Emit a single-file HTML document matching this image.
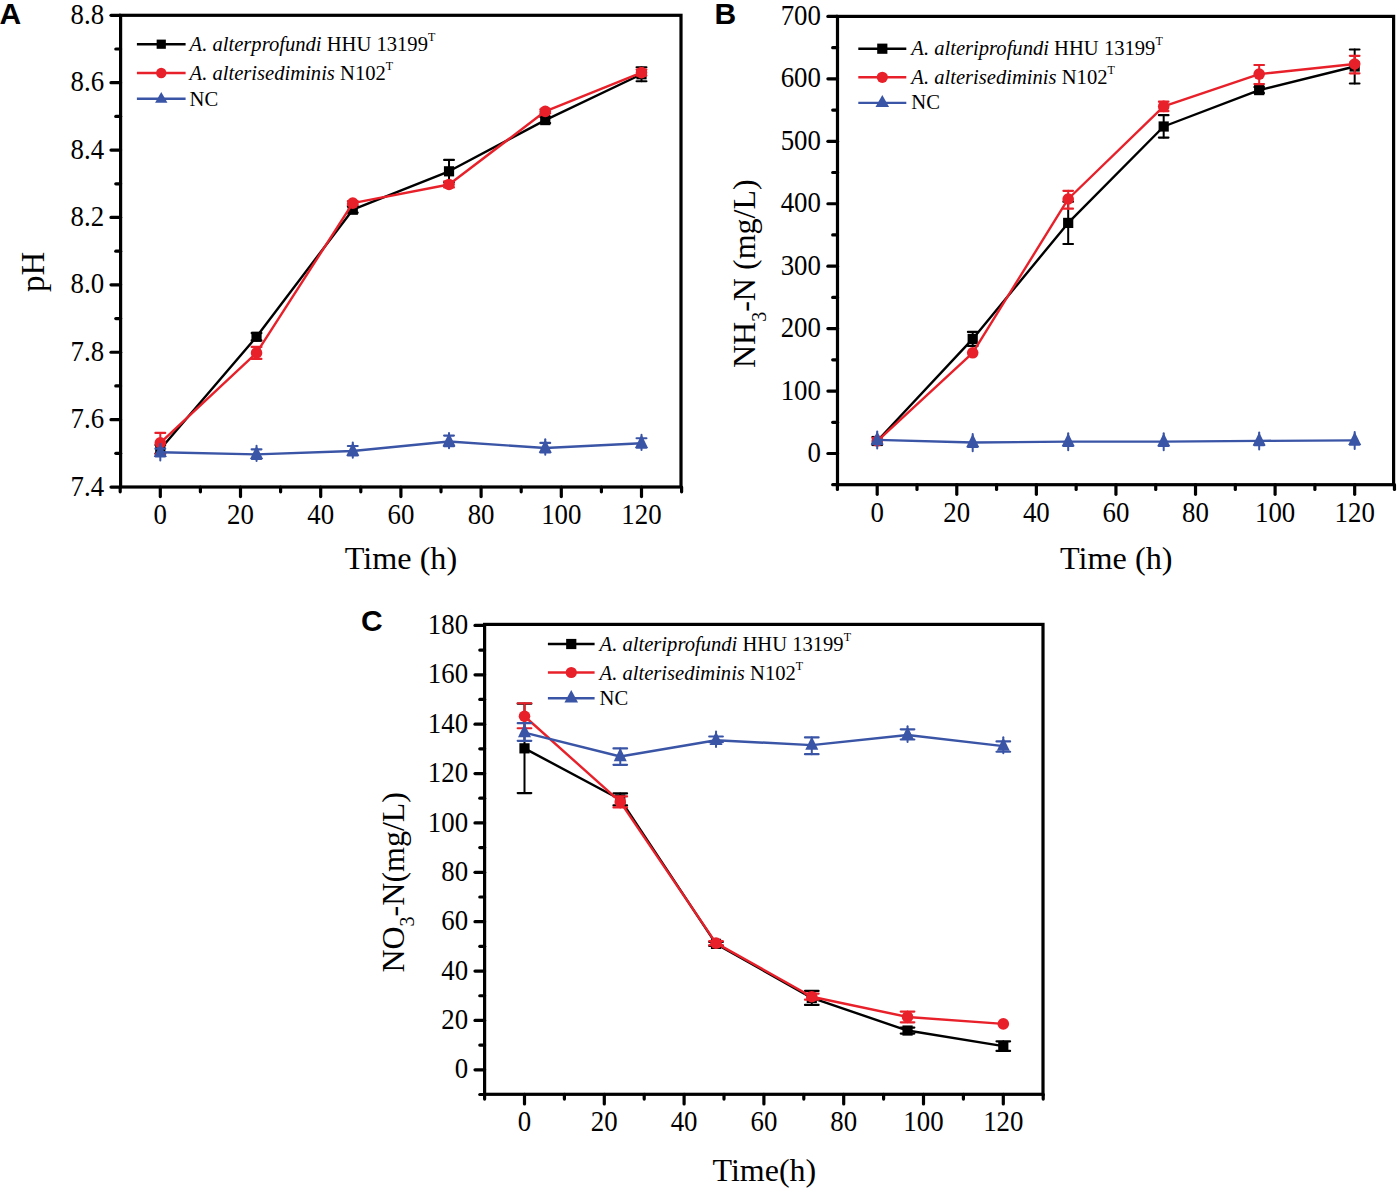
<!DOCTYPE html>
<html><head><meta charset="utf-8"><style>
html,body{margin:0;padding:0;background:#fff;width:1397px;height:1190px;overflow:hidden}
svg{display:block}
.tk{font-family:"Liberation Serif",serif;font-size:28px;fill:#000}
.ti{font-family:"Liberation Serif",serif;font-size:32px;fill:#000}
.lg{font-family:"Liberation Serif",serif;font-size:20.6px;fill:#000}
.lt{font-family:"Liberation Sans",sans-serif;font-weight:bold;font-size:30px;fill:#000}
</style></head><body>
<svg width="1397" height="1190" viewBox="0 0 1397 1190">
<rect x="120.6" y="15.3" width="560.4" height="471.7" fill="none" stroke="#000" stroke-width="3.2" stroke-linecap="square"/>
<line x1="111.00" y1="487.03" x2="120.6" y2="487.03" stroke="#000" stroke-width="3.2" stroke-linecap="round"/>
<text transform="translate(104.10,495.63) scale(0.96,1.07)" text-anchor="end" class="tk">7.4</text>
<line x1="115.80" y1="453.34" x2="120.6" y2="453.34" stroke="#000" stroke-width="3.2" stroke-linecap="round"/>
<line x1="111.00" y1="419.64" x2="120.6" y2="419.64" stroke="#000" stroke-width="3.2" stroke-linecap="round"/>
<text transform="translate(104.10,428.24) scale(0.96,1.07)" text-anchor="end" class="tk">7.6</text>
<line x1="115.80" y1="385.95" x2="120.6" y2="385.95" stroke="#000" stroke-width="3.2" stroke-linecap="round"/>
<line x1="111.00" y1="352.25" x2="120.6" y2="352.25" stroke="#000" stroke-width="3.2" stroke-linecap="round"/>
<text transform="translate(104.10,360.85) scale(0.96,1.07)" text-anchor="end" class="tk">7.8</text>
<line x1="115.80" y1="318.56" x2="120.6" y2="318.56" stroke="#000" stroke-width="3.2" stroke-linecap="round"/>
<line x1="111.00" y1="284.86" x2="120.6" y2="284.86" stroke="#000" stroke-width="3.2" stroke-linecap="round"/>
<text transform="translate(104.10,293.46) scale(0.96,1.07)" text-anchor="end" class="tk">8.0</text>
<line x1="115.80" y1="251.17" x2="120.6" y2="251.17" stroke="#000" stroke-width="3.2" stroke-linecap="round"/>
<line x1="111.00" y1="217.47" x2="120.6" y2="217.47" stroke="#000" stroke-width="3.2" stroke-linecap="round"/>
<text transform="translate(104.10,226.07) scale(0.96,1.07)" text-anchor="end" class="tk">8.2</text>
<line x1="115.80" y1="183.78" x2="120.6" y2="183.78" stroke="#000" stroke-width="3.2" stroke-linecap="round"/>
<line x1="111.00" y1="150.08" x2="120.6" y2="150.08" stroke="#000" stroke-width="3.2" stroke-linecap="round"/>
<text transform="translate(104.10,158.68) scale(0.96,1.07)" text-anchor="end" class="tk">8.4</text>
<line x1="115.80" y1="116.39" x2="120.6" y2="116.39" stroke="#000" stroke-width="3.2" stroke-linecap="round"/>
<line x1="111.00" y1="82.69" x2="120.6" y2="82.69" stroke="#000" stroke-width="3.2" stroke-linecap="round"/>
<text transform="translate(104.10,91.29) scale(0.96,1.07)" text-anchor="end" class="tk">8.6</text>
<line x1="115.80" y1="49.00" x2="120.6" y2="49.00" stroke="#000" stroke-width="3.2" stroke-linecap="round"/>
<line x1="111.00" y1="15.30" x2="120.6" y2="15.30" stroke="#000" stroke-width="3.2" stroke-linecap="round"/>
<text transform="translate(104.10,23.90) scale(0.96,1.07)" text-anchor="end" class="tk">8.8</text>
<line x1="120.20" y1="487.0" x2="120.20" y2="491.80" stroke="#000" stroke-width="3.2" stroke-linecap="round"/>
<line x1="160.30" y1="487.0" x2="160.30" y2="496.60" stroke="#000" stroke-width="3.2" stroke-linecap="round"/>
<text transform="translate(160.30,524.00) scale(0.96,1.07)" text-anchor="middle" class="tk">0</text>
<line x1="200.40" y1="487.0" x2="200.40" y2="491.80" stroke="#000" stroke-width="3.2" stroke-linecap="round"/>
<line x1="240.50" y1="487.0" x2="240.50" y2="496.60" stroke="#000" stroke-width="3.2" stroke-linecap="round"/>
<text transform="translate(240.50,524.00) scale(0.96,1.07)" text-anchor="middle" class="tk">20</text>
<line x1="280.60" y1="487.0" x2="280.60" y2="491.80" stroke="#000" stroke-width="3.2" stroke-linecap="round"/>
<line x1="320.70" y1="487.0" x2="320.70" y2="496.60" stroke="#000" stroke-width="3.2" stroke-linecap="round"/>
<text transform="translate(320.70,524.00) scale(0.96,1.07)" text-anchor="middle" class="tk">40</text>
<line x1="360.80" y1="487.0" x2="360.80" y2="491.80" stroke="#000" stroke-width="3.2" stroke-linecap="round"/>
<line x1="400.90" y1="487.0" x2="400.90" y2="496.60" stroke="#000" stroke-width="3.2" stroke-linecap="round"/>
<text transform="translate(400.90,524.00) scale(0.96,1.07)" text-anchor="middle" class="tk">60</text>
<line x1="441.00" y1="487.0" x2="441.00" y2="491.80" stroke="#000" stroke-width="3.2" stroke-linecap="round"/>
<line x1="481.10" y1="487.0" x2="481.10" y2="496.60" stroke="#000" stroke-width="3.2" stroke-linecap="round"/>
<text transform="translate(481.10,524.00) scale(0.96,1.07)" text-anchor="middle" class="tk">80</text>
<line x1="521.20" y1="487.0" x2="521.20" y2="491.80" stroke="#000" stroke-width="3.2" stroke-linecap="round"/>
<line x1="561.30" y1="487.0" x2="561.30" y2="496.60" stroke="#000" stroke-width="3.2" stroke-linecap="round"/>
<text transform="translate(561.30,524.00) scale(0.96,1.07)" text-anchor="middle" class="tk">100</text>
<line x1="601.40" y1="487.0" x2="601.40" y2="491.80" stroke="#000" stroke-width="3.2" stroke-linecap="round"/>
<line x1="641.50" y1="487.0" x2="641.50" y2="496.60" stroke="#000" stroke-width="3.2" stroke-linecap="round"/>
<text transform="translate(641.50,524.00) scale(0.96,1.07)" text-anchor="middle" class="tk">120</text>
<line x1="681.60" y1="487.0" x2="681.60" y2="491.80" stroke="#000" stroke-width="3.2" stroke-linecap="round"/>
<polyline points="160.30,449.29 256.54,336.75 352.78,209.72 449.02,171.31 545.26,120.09 641.50,74.27" fill="none" stroke="#000000" stroke-width="2.4" stroke-linejoin="round"/>
<line x1="160.30" y1="445.09" x2="160.30" y2="453.49" stroke="#000000" stroke-width="2" stroke-linecap="round"/>
<line x1="155.40" y1="445.09" x2="165.20" y2="445.09" stroke="#000000" stroke-width="2.2" stroke-linecap="round"/>
<line x1="155.40" y1="453.49" x2="165.20" y2="453.49" stroke="#000000" stroke-width="2.2" stroke-linecap="round"/>
<rect x="155.20" y="444.19" width="10.2" height="10.2" fill="#000000"/>
<line x1="256.54" y1="333.05" x2="256.54" y2="340.45" stroke="#000000" stroke-width="2" stroke-linecap="round"/>
<line x1="251.64" y1="333.05" x2="261.44" y2="333.05" stroke="#000000" stroke-width="2.2" stroke-linecap="round"/>
<line x1="251.64" y1="340.45" x2="261.44" y2="340.45" stroke="#000000" stroke-width="2.2" stroke-linecap="round"/>
<rect x="251.44" y="331.65" width="10.2" height="10.2" fill="#000000"/>
<line x1="352.78" y1="206.72" x2="352.78" y2="212.72" stroke="#000000" stroke-width="2" stroke-linecap="round"/>
<line x1="347.88" y1="206.72" x2="357.68" y2="206.72" stroke="#000000" stroke-width="2.2" stroke-linecap="round"/>
<line x1="347.88" y1="212.72" x2="357.68" y2="212.72" stroke="#000000" stroke-width="2.2" stroke-linecap="round"/>
<rect x="347.68" y="204.62" width="10.2" height="10.2" fill="#000000"/>
<line x1="449.02" y1="159.91" x2="449.02" y2="182.31" stroke="#000000" stroke-width="2" stroke-linecap="round"/>
<line x1="444.12" y1="159.91" x2="453.92" y2="159.91" stroke="#000000" stroke-width="2.2" stroke-linecap="round"/>
<line x1="444.12" y1="182.31" x2="453.92" y2="182.31" stroke="#000000" stroke-width="2.2" stroke-linecap="round"/>
<rect x="443.92" y="166.21" width="10.2" height="10.2" fill="#000000"/>
<line x1="545.26" y1="117.09" x2="545.26" y2="123.09" stroke="#000000" stroke-width="2" stroke-linecap="round"/>
<line x1="540.36" y1="117.09" x2="550.16" y2="117.09" stroke="#000000" stroke-width="2.2" stroke-linecap="round"/>
<line x1="540.36" y1="123.09" x2="550.16" y2="123.09" stroke="#000000" stroke-width="2.2" stroke-linecap="round"/>
<rect x="540.16" y="114.99" width="10.2" height="10.2" fill="#000000"/>
<line x1="641.50" y1="67.27" x2="641.50" y2="81.27" stroke="#000000" stroke-width="2" stroke-linecap="round"/>
<line x1="636.60" y1="67.27" x2="646.40" y2="67.27" stroke="#000000" stroke-width="2.2" stroke-linecap="round"/>
<line x1="636.60" y1="81.27" x2="646.40" y2="81.27" stroke="#000000" stroke-width="2.2" stroke-linecap="round"/>
<rect x="636.40" y="69.17" width="10.2" height="10.2" fill="#000000"/>
<polyline points="160.30,442.89 256.54,352.92 352.78,203.15 449.02,184.45 545.26,111.33 641.50,72.58" fill="none" stroke="#e8202a" stroke-width="2.4" stroke-linejoin="round"/>
<line x1="160.30" y1="432.89" x2="160.30" y2="453.89" stroke="#e8202a" stroke-width="2" stroke-linecap="round"/>
<line x1="155.40" y1="432.89" x2="165.20" y2="432.89" stroke="#e8202a" stroke-width="2.2" stroke-linecap="round"/>
<line x1="155.40" y1="453.89" x2="165.20" y2="453.89" stroke="#e8202a" stroke-width="2.2" stroke-linecap="round"/>
<circle cx="160.30" cy="442.89" r="5.8" fill="#e8202a"/>
<line x1="256.54" y1="346.92" x2="256.54" y2="358.92" stroke="#e8202a" stroke-width="2" stroke-linecap="round"/>
<line x1="251.64" y1="346.92" x2="261.44" y2="346.92" stroke="#e8202a" stroke-width="2.2" stroke-linecap="round"/>
<line x1="251.64" y1="358.92" x2="261.44" y2="358.92" stroke="#e8202a" stroke-width="2.2" stroke-linecap="round"/>
<circle cx="256.54" cy="352.92" r="5.8" fill="#e8202a"/>
<line x1="352.78" y1="201.15" x2="352.78" y2="205.15" stroke="#e8202a" stroke-width="2" stroke-linecap="round"/>
<line x1="347.88" y1="201.15" x2="357.68" y2="201.15" stroke="#e8202a" stroke-width="2.2" stroke-linecap="round"/>
<line x1="347.88" y1="205.15" x2="357.68" y2="205.15" stroke="#e8202a" stroke-width="2.2" stroke-linecap="round"/>
<circle cx="352.78" cy="203.15" r="5.8" fill="#e8202a"/>
<line x1="449.02" y1="181.45" x2="449.02" y2="187.45" stroke="#e8202a" stroke-width="2" stroke-linecap="round"/>
<line x1="444.12" y1="181.45" x2="453.92" y2="181.45" stroke="#e8202a" stroke-width="2.2" stroke-linecap="round"/>
<line x1="444.12" y1="187.45" x2="453.92" y2="187.45" stroke="#e8202a" stroke-width="2.2" stroke-linecap="round"/>
<circle cx="449.02" cy="184.45" r="5.8" fill="#e8202a"/>
<line x1="545.26" y1="109.33" x2="545.26" y2="113.33" stroke="#e8202a" stroke-width="2" stroke-linecap="round"/>
<line x1="540.36" y1="109.33" x2="550.16" y2="109.33" stroke="#e8202a" stroke-width="2.2" stroke-linecap="round"/>
<line x1="540.36" y1="113.33" x2="550.16" y2="113.33" stroke="#e8202a" stroke-width="2.2" stroke-linecap="round"/>
<circle cx="545.26" cy="111.33" r="5.8" fill="#e8202a"/>
<line x1="641.50" y1="69.58" x2="641.50" y2="75.58" stroke="#e8202a" stroke-width="2" stroke-linecap="round"/>
<line x1="636.60" y1="69.58" x2="646.40" y2="69.58" stroke="#e8202a" stroke-width="2.2" stroke-linecap="round"/>
<line x1="636.60" y1="75.58" x2="646.40" y2="75.58" stroke="#e8202a" stroke-width="2.2" stroke-linecap="round"/>
<circle cx="641.50" cy="72.58" r="5.8" fill="#e8202a"/>
<polyline points="160.30,452.32 256.54,454.35 352.78,450.98 449.02,441.54 545.26,447.94 641.50,443.23" fill="none" stroke="#3a54a6" stroke-width="2.4" stroke-linejoin="round"/>
<line x1="160.30" y1="443.72" x2="160.30" y2="460.62" stroke="#3a54a6" stroke-width="2" stroke-linecap="round"/>
<line x1="155.40" y1="448.72" x2="165.20" y2="448.72" stroke="#3a54a6" stroke-width="2.2" stroke-linecap="round"/>
<line x1="155.40" y1="456.32" x2="165.20" y2="456.32" stroke="#3a54a6" stroke-width="2.2" stroke-linecap="round"/>
<polygon points="160.30,443.62 166.80,457.02 153.80,457.02" fill="#3a54a6"/>
<line x1="256.54" y1="445.75" x2="256.54" y2="461.05" stroke="#3a54a6" stroke-width="2" stroke-linecap="round"/>
<line x1="251.64" y1="449.35" x2="261.44" y2="449.35" stroke="#3a54a6" stroke-width="2.2" stroke-linecap="round"/>
<line x1="251.64" y1="458.85" x2="261.44" y2="458.85" stroke="#3a54a6" stroke-width="2.2" stroke-linecap="round"/>
<polygon points="256.54,445.65 263.04,459.05 250.04,459.05" fill="#3a54a6"/>
<line x1="352.78" y1="442.38" x2="352.78" y2="457.68" stroke="#3a54a6" stroke-width="2" stroke-linecap="round"/>
<line x1="347.88" y1="445.98" x2="357.68" y2="445.98" stroke="#3a54a6" stroke-width="2.2" stroke-linecap="round"/>
<line x1="347.88" y1="455.48" x2="357.68" y2="455.48" stroke="#3a54a6" stroke-width="2.2" stroke-linecap="round"/>
<polygon points="352.78,442.28 359.28,455.68 346.28,455.68" fill="#3a54a6"/>
<line x1="449.02" y1="432.94" x2="449.02" y2="448.24" stroke="#3a54a6" stroke-width="2" stroke-linecap="round"/>
<line x1="444.12" y1="435.54" x2="453.92" y2="435.54" stroke="#3a54a6" stroke-width="2.2" stroke-linecap="round"/>
<line x1="444.12" y1="446.24" x2="453.92" y2="446.24" stroke="#3a54a6" stroke-width="2.2" stroke-linecap="round"/>
<polygon points="449.02,432.84 455.52,446.24 442.52,446.24" fill="#3a54a6"/>
<line x1="545.26" y1="439.34" x2="545.26" y2="454.64" stroke="#3a54a6" stroke-width="2" stroke-linecap="round"/>
<line x1="540.36" y1="442.94" x2="550.16" y2="442.94" stroke="#3a54a6" stroke-width="2.2" stroke-linecap="round"/>
<line x1="540.36" y1="452.44" x2="550.16" y2="452.44" stroke="#3a54a6" stroke-width="2.2" stroke-linecap="round"/>
<polygon points="545.26,439.24 551.76,452.64 538.76,452.64" fill="#3a54a6"/>
<line x1="641.50" y1="434.63" x2="641.50" y2="449.93" stroke="#3a54a6" stroke-width="2" stroke-linecap="round"/>
<line x1="636.60" y1="438.23" x2="646.40" y2="438.23" stroke="#3a54a6" stroke-width="2.2" stroke-linecap="round"/>
<line x1="636.60" y1="447.73" x2="646.40" y2="447.73" stroke="#3a54a6" stroke-width="2.2" stroke-linecap="round"/>
<polygon points="641.50,434.53 648.00,447.93 635.00,447.93" fill="#3a54a6"/>
<rect x="837.5" y="16.4" width="556.0999999999999" height="468.3" fill="none" stroke="#000" stroke-width="3.2" stroke-linecap="square"/>
<line x1="832.70" y1="484.72" x2="837.5" y2="484.72" stroke="#000" stroke-width="3.2" stroke-linecap="round"/>
<line x1="827.90" y1="453.50" x2="837.5" y2="453.50" stroke="#000" stroke-width="3.2" stroke-linecap="round"/>
<text transform="translate(821.00,462.10) scale(0.96,1.07)" text-anchor="end" class="tk">0</text>
<line x1="832.70" y1="422.28" x2="837.5" y2="422.28" stroke="#000" stroke-width="3.2" stroke-linecap="round"/>
<line x1="827.90" y1="391.06" x2="837.5" y2="391.06" stroke="#000" stroke-width="3.2" stroke-linecap="round"/>
<text transform="translate(821.00,399.66) scale(0.96,1.07)" text-anchor="end" class="tk">100</text>
<line x1="832.70" y1="359.84" x2="837.5" y2="359.84" stroke="#000" stroke-width="3.2" stroke-linecap="round"/>
<line x1="827.90" y1="328.62" x2="837.5" y2="328.62" stroke="#000" stroke-width="3.2" stroke-linecap="round"/>
<text transform="translate(821.00,337.22) scale(0.96,1.07)" text-anchor="end" class="tk">200</text>
<line x1="832.70" y1="297.40" x2="837.5" y2="297.40" stroke="#000" stroke-width="3.2" stroke-linecap="round"/>
<line x1="827.90" y1="266.18" x2="837.5" y2="266.18" stroke="#000" stroke-width="3.2" stroke-linecap="round"/>
<text transform="translate(821.00,274.78) scale(0.96,1.07)" text-anchor="end" class="tk">300</text>
<line x1="832.70" y1="234.96" x2="837.5" y2="234.96" stroke="#000" stroke-width="3.2" stroke-linecap="round"/>
<line x1="827.90" y1="203.74" x2="837.5" y2="203.74" stroke="#000" stroke-width="3.2" stroke-linecap="round"/>
<text transform="translate(821.00,212.34) scale(0.96,1.07)" text-anchor="end" class="tk">400</text>
<line x1="832.70" y1="172.52" x2="837.5" y2="172.52" stroke="#000" stroke-width="3.2" stroke-linecap="round"/>
<line x1="827.90" y1="141.30" x2="837.5" y2="141.30" stroke="#000" stroke-width="3.2" stroke-linecap="round"/>
<text transform="translate(821.00,149.90) scale(0.96,1.07)" text-anchor="end" class="tk">500</text>
<line x1="832.70" y1="110.08" x2="837.5" y2="110.08" stroke="#000" stroke-width="3.2" stroke-linecap="round"/>
<line x1="827.90" y1="78.86" x2="837.5" y2="78.86" stroke="#000" stroke-width="3.2" stroke-linecap="round"/>
<text transform="translate(821.00,87.46) scale(0.96,1.07)" text-anchor="end" class="tk">600</text>
<line x1="832.70" y1="47.64" x2="837.5" y2="47.64" stroke="#000" stroke-width="3.2" stroke-linecap="round"/>
<line x1="827.90" y1="16.42" x2="837.5" y2="16.42" stroke="#000" stroke-width="3.2" stroke-linecap="round"/>
<text transform="translate(821.00,25.02) scale(0.96,1.07)" text-anchor="end" class="tk">700</text>
<line x1="837.41" y1="484.7" x2="837.41" y2="489.50" stroke="#000" stroke-width="3.2" stroke-linecap="round"/>
<line x1="877.20" y1="484.7" x2="877.20" y2="494.30" stroke="#000" stroke-width="3.2" stroke-linecap="round"/>
<text transform="translate(877.20,521.70) scale(0.96,1.07)" text-anchor="middle" class="tk">0</text>
<line x1="916.99" y1="484.7" x2="916.99" y2="489.50" stroke="#000" stroke-width="3.2" stroke-linecap="round"/>
<line x1="956.78" y1="484.7" x2="956.78" y2="494.30" stroke="#000" stroke-width="3.2" stroke-linecap="round"/>
<text transform="translate(956.78,521.70) scale(0.96,1.07)" text-anchor="middle" class="tk">20</text>
<line x1="996.57" y1="484.7" x2="996.57" y2="489.50" stroke="#000" stroke-width="3.2" stroke-linecap="round"/>
<line x1="1036.36" y1="484.7" x2="1036.36" y2="494.30" stroke="#000" stroke-width="3.2" stroke-linecap="round"/>
<text transform="translate(1036.36,521.70) scale(0.96,1.07)" text-anchor="middle" class="tk">40</text>
<line x1="1076.15" y1="484.7" x2="1076.15" y2="489.50" stroke="#000" stroke-width="3.2" stroke-linecap="round"/>
<line x1="1115.94" y1="484.7" x2="1115.94" y2="494.30" stroke="#000" stroke-width="3.2" stroke-linecap="round"/>
<text transform="translate(1115.94,521.70) scale(0.96,1.07)" text-anchor="middle" class="tk">60</text>
<line x1="1155.73" y1="484.7" x2="1155.73" y2="489.50" stroke="#000" stroke-width="3.2" stroke-linecap="round"/>
<line x1="1195.52" y1="484.7" x2="1195.52" y2="494.30" stroke="#000" stroke-width="3.2" stroke-linecap="round"/>
<text transform="translate(1195.52,521.70) scale(0.96,1.07)" text-anchor="middle" class="tk">80</text>
<line x1="1235.31" y1="484.7" x2="1235.31" y2="489.50" stroke="#000" stroke-width="3.2" stroke-linecap="round"/>
<line x1="1275.10" y1="484.7" x2="1275.10" y2="494.30" stroke="#000" stroke-width="3.2" stroke-linecap="round"/>
<text transform="translate(1275.10,521.70) scale(0.96,1.07)" text-anchor="middle" class="tk">100</text>
<line x1="1314.89" y1="484.7" x2="1314.89" y2="489.50" stroke="#000" stroke-width="3.2" stroke-linecap="round"/>
<line x1="1354.68" y1="484.7" x2="1354.68" y2="494.30" stroke="#000" stroke-width="3.2" stroke-linecap="round"/>
<text transform="translate(1354.68,521.70) scale(0.96,1.07)" text-anchor="middle" class="tk">120</text>
<line x1="1394.47" y1="484.7" x2="1394.47" y2="489.50" stroke="#000" stroke-width="3.2" stroke-linecap="round"/>
<polyline points="877.20,441.01 972.70,338.92 1068.19,222.91 1163.69,126.50 1259.18,90.10 1354.68,66.50" fill="none" stroke="#000000" stroke-width="2.4" stroke-linejoin="round"/>
<line x1="877.20" y1="437.01" x2="877.20" y2="445.01" stroke="#000000" stroke-width="2" stroke-linecap="round"/>
<line x1="872.40" y1="437.01" x2="882.00" y2="437.01" stroke="#000000" stroke-width="2.2" stroke-linecap="round"/>
<line x1="872.40" y1="445.01" x2="882.00" y2="445.01" stroke="#000000" stroke-width="2.2" stroke-linecap="round"/>
<rect x="872.10" y="435.91" width="10.2" height="10.2" fill="#000000"/>
<line x1="972.70" y1="331.92" x2="972.70" y2="345.92" stroke="#000000" stroke-width="2" stroke-linecap="round"/>
<line x1="967.90" y1="331.92" x2="977.50" y2="331.92" stroke="#000000" stroke-width="2.2" stroke-linecap="round"/>
<line x1="967.90" y1="345.92" x2="977.50" y2="345.92" stroke="#000000" stroke-width="2.2" stroke-linecap="round"/>
<rect x="967.60" y="333.82" width="10.2" height="10.2" fill="#000000"/>
<line x1="1068.19" y1="201.71" x2="1068.19" y2="244.01" stroke="#000000" stroke-width="2" stroke-linecap="round"/>
<line x1="1063.39" y1="201.71" x2="1072.99" y2="201.71" stroke="#000000" stroke-width="2.2" stroke-linecap="round"/>
<line x1="1063.39" y1="244.01" x2="1072.99" y2="244.01" stroke="#000000" stroke-width="2.2" stroke-linecap="round"/>
<rect x="1063.09" y="217.81" width="10.2" height="10.2" fill="#000000"/>
<line x1="1163.69" y1="115.20" x2="1163.69" y2="137.60" stroke="#000000" stroke-width="2" stroke-linecap="round"/>
<line x1="1158.89" y1="115.20" x2="1168.49" y2="115.20" stroke="#000000" stroke-width="2.2" stroke-linecap="round"/>
<line x1="1158.89" y1="137.60" x2="1168.49" y2="137.60" stroke="#000000" stroke-width="2.2" stroke-linecap="round"/>
<rect x="1158.59" y="121.40" width="10.2" height="10.2" fill="#000000"/>
<line x1="1259.18" y1="87.10" x2="1259.18" y2="93.10" stroke="#000000" stroke-width="2" stroke-linecap="round"/>
<line x1="1254.38" y1="87.10" x2="1263.98" y2="87.10" stroke="#000000" stroke-width="2.2" stroke-linecap="round"/>
<line x1="1254.38" y1="93.10" x2="1263.98" y2="93.10" stroke="#000000" stroke-width="2.2" stroke-linecap="round"/>
<rect x="1254.08" y="85.00" width="10.2" height="10.2" fill="#000000"/>
<line x1="1354.68" y1="49.50" x2="1354.68" y2="83.50" stroke="#000000" stroke-width="2" stroke-linecap="round"/>
<line x1="1349.88" y1="49.50" x2="1359.48" y2="49.50" stroke="#000000" stroke-width="2.2" stroke-linecap="round"/>
<line x1="1349.88" y1="83.50" x2="1359.48" y2="83.50" stroke="#000000" stroke-width="2.2" stroke-linecap="round"/>
<rect x="1349.58" y="61.40" width="10.2" height="10.2" fill="#000000"/>
<polyline points="877.20,441.01 972.70,352.78 1068.19,198.99 1163.69,106.40 1259.18,74.11 1354.68,64.00" fill="none" stroke="#e8202a" stroke-width="2.4" stroke-linejoin="round"/>
<line x1="877.20" y1="438.01" x2="877.20" y2="444.01" stroke="#e8202a" stroke-width="2" stroke-linecap="round"/>
<line x1="872.40" y1="438.01" x2="882.00" y2="438.01" stroke="#e8202a" stroke-width="2.2" stroke-linecap="round"/>
<line x1="872.40" y1="444.01" x2="882.00" y2="444.01" stroke="#e8202a" stroke-width="2.2" stroke-linecap="round"/>
<circle cx="877.20" cy="441.01" r="5.8" fill="#e8202a"/>
<circle cx="972.70" cy="352.78" r="5.8" fill="#e8202a"/>
<line x1="1068.19" y1="190.79" x2="1068.19" y2="208.69" stroke="#e8202a" stroke-width="2" stroke-linecap="round"/>
<line x1="1063.39" y1="190.79" x2="1072.99" y2="190.79" stroke="#e8202a" stroke-width="2.2" stroke-linecap="round"/>
<line x1="1063.39" y1="208.69" x2="1072.99" y2="208.69" stroke="#e8202a" stroke-width="2.2" stroke-linecap="round"/>
<circle cx="1068.19" cy="198.99" r="5.8" fill="#e8202a"/>
<line x1="1163.69" y1="101.70" x2="1163.69" y2="111.10" stroke="#e8202a" stroke-width="2" stroke-linecap="round"/>
<line x1="1158.89" y1="101.70" x2="1168.49" y2="101.70" stroke="#e8202a" stroke-width="2.2" stroke-linecap="round"/>
<line x1="1158.89" y1="111.10" x2="1168.49" y2="111.10" stroke="#e8202a" stroke-width="2.2" stroke-linecap="round"/>
<circle cx="1163.69" cy="106.40" r="5.8" fill="#e8202a"/>
<line x1="1259.18" y1="65.01" x2="1259.18" y2="84.11" stroke="#e8202a" stroke-width="2" stroke-linecap="round"/>
<line x1="1254.38" y1="65.01" x2="1263.98" y2="65.01" stroke="#e8202a" stroke-width="2.2" stroke-linecap="round"/>
<line x1="1254.38" y1="84.11" x2="1263.98" y2="84.11" stroke="#e8202a" stroke-width="2.2" stroke-linecap="round"/>
<circle cx="1259.18" cy="74.11" r="5.8" fill="#e8202a"/>
<line x1="1354.68" y1="55.80" x2="1354.68" y2="73.30" stroke="#e8202a" stroke-width="2" stroke-linecap="round"/>
<line x1="1349.88" y1="55.80" x2="1359.48" y2="55.80" stroke="#e8202a" stroke-width="2.2" stroke-linecap="round"/>
<line x1="1349.88" y1="73.30" x2="1359.48" y2="73.30" stroke="#e8202a" stroke-width="2.2" stroke-linecap="round"/>
<circle cx="1354.68" cy="64.00" r="5.8" fill="#e8202a"/>
<polyline points="877.20,439.83 972.70,442.51 1068.19,441.64 1163.69,441.64 1259.18,440.89 1354.68,440.39" fill="none" stroke="#3a54a6" stroke-width="2.4" stroke-linejoin="round"/>
<line x1="877.20" y1="431.43" x2="877.20" y2="448.53" stroke="#3a54a6" stroke-width="2" stroke-linecap="round"/>
<line x1="872.40" y1="444.13" x2="882.00" y2="444.13" stroke="#3a54a6" stroke-width="2.2" stroke-linecap="round"/>
<polygon points="877.20,431.13 883.70,444.53 870.70,444.53" fill="#3a54a6"/>
<line x1="972.70" y1="434.11" x2="972.70" y2="451.21" stroke="#3a54a6" stroke-width="2" stroke-linecap="round"/>
<line x1="967.90" y1="446.81" x2="977.50" y2="446.81" stroke="#3a54a6" stroke-width="2.2" stroke-linecap="round"/>
<polygon points="972.70,433.81 979.20,447.21 966.20,447.21" fill="#3a54a6"/>
<line x1="1068.19" y1="433.24" x2="1068.19" y2="450.34" stroke="#3a54a6" stroke-width="2" stroke-linecap="round"/>
<line x1="1063.39" y1="445.94" x2="1072.99" y2="445.94" stroke="#3a54a6" stroke-width="2.2" stroke-linecap="round"/>
<polygon points="1068.19,432.94 1074.69,446.34 1061.69,446.34" fill="#3a54a6"/>
<line x1="1163.69" y1="433.24" x2="1163.69" y2="450.34" stroke="#3a54a6" stroke-width="2" stroke-linecap="round"/>
<line x1="1158.89" y1="445.94" x2="1168.49" y2="445.94" stroke="#3a54a6" stroke-width="2.2" stroke-linecap="round"/>
<polygon points="1163.69,432.94 1170.19,446.34 1157.19,446.34" fill="#3a54a6"/>
<line x1="1259.18" y1="432.49" x2="1259.18" y2="449.59" stroke="#3a54a6" stroke-width="2" stroke-linecap="round"/>
<line x1="1254.38" y1="445.19" x2="1263.98" y2="445.19" stroke="#3a54a6" stroke-width="2.2" stroke-linecap="round"/>
<polygon points="1259.18,432.19 1265.68,445.59 1252.68,445.59" fill="#3a54a6"/>
<line x1="1354.68" y1="431.99" x2="1354.68" y2="449.09" stroke="#3a54a6" stroke-width="2" stroke-linecap="round"/>
<line x1="1349.88" y1="444.69" x2="1359.48" y2="444.69" stroke="#3a54a6" stroke-width="2.2" stroke-linecap="round"/>
<polygon points="1354.68,431.69 1361.18,445.09 1348.18,445.09" fill="#3a54a6"/>
<rect x="484.6" y="624.4" width="558.4" height="469.9" fill="none" stroke="#000" stroke-width="3.2" stroke-linecap="square"/>
<line x1="479.80" y1="1094.49" x2="484.6" y2="1094.49" stroke="#000" stroke-width="3.2" stroke-linecap="round"/>
<line x1="475.00" y1="1069.80" x2="484.6" y2="1069.80" stroke="#000" stroke-width="3.2" stroke-linecap="round"/>
<text transform="translate(468.10,1078.40) scale(0.96,1.07)" text-anchor="end" class="tk">0</text>
<line x1="479.80" y1="1045.11" x2="484.6" y2="1045.11" stroke="#000" stroke-width="3.2" stroke-linecap="round"/>
<line x1="475.00" y1="1020.42" x2="484.6" y2="1020.42" stroke="#000" stroke-width="3.2" stroke-linecap="round"/>
<text transform="translate(468.10,1029.02) scale(0.96,1.07)" text-anchor="end" class="tk">20</text>
<line x1="479.80" y1="995.73" x2="484.6" y2="995.73" stroke="#000" stroke-width="3.2" stroke-linecap="round"/>
<line x1="475.00" y1="971.04" x2="484.6" y2="971.04" stroke="#000" stroke-width="3.2" stroke-linecap="round"/>
<text transform="translate(468.10,979.64) scale(0.96,1.07)" text-anchor="end" class="tk">40</text>
<line x1="479.80" y1="946.35" x2="484.6" y2="946.35" stroke="#000" stroke-width="3.2" stroke-linecap="round"/>
<line x1="475.00" y1="921.67" x2="484.6" y2="921.67" stroke="#000" stroke-width="3.2" stroke-linecap="round"/>
<text transform="translate(468.10,930.27) scale(0.96,1.07)" text-anchor="end" class="tk">60</text>
<line x1="479.80" y1="896.98" x2="484.6" y2="896.98" stroke="#000" stroke-width="3.2" stroke-linecap="round"/>
<line x1="475.00" y1="872.29" x2="484.6" y2="872.29" stroke="#000" stroke-width="3.2" stroke-linecap="round"/>
<text transform="translate(468.10,880.89) scale(0.96,1.07)" text-anchor="end" class="tk">80</text>
<line x1="479.80" y1="847.60" x2="484.6" y2="847.60" stroke="#000" stroke-width="3.2" stroke-linecap="round"/>
<line x1="475.00" y1="822.91" x2="484.6" y2="822.91" stroke="#000" stroke-width="3.2" stroke-linecap="round"/>
<text transform="translate(468.10,831.51) scale(0.96,1.07)" text-anchor="end" class="tk">100</text>
<line x1="479.80" y1="798.22" x2="484.6" y2="798.22" stroke="#000" stroke-width="3.2" stroke-linecap="round"/>
<line x1="475.00" y1="773.53" x2="484.6" y2="773.53" stroke="#000" stroke-width="3.2" stroke-linecap="round"/>
<text transform="translate(468.10,782.13) scale(0.96,1.07)" text-anchor="end" class="tk">120</text>
<line x1="479.80" y1="748.84" x2="484.6" y2="748.84" stroke="#000" stroke-width="3.2" stroke-linecap="round"/>
<line x1="475.00" y1="724.15" x2="484.6" y2="724.15" stroke="#000" stroke-width="3.2" stroke-linecap="round"/>
<text transform="translate(468.10,732.75) scale(0.96,1.07)" text-anchor="end" class="tk">140</text>
<line x1="479.80" y1="699.46" x2="484.6" y2="699.46" stroke="#000" stroke-width="3.2" stroke-linecap="round"/>
<line x1="475.00" y1="674.78" x2="484.6" y2="674.78" stroke="#000" stroke-width="3.2" stroke-linecap="round"/>
<text transform="translate(468.10,683.38) scale(0.96,1.07)" text-anchor="end" class="tk">160</text>
<line x1="479.80" y1="650.09" x2="484.6" y2="650.09" stroke="#000" stroke-width="3.2" stroke-linecap="round"/>
<line x1="475.00" y1="625.40" x2="484.6" y2="625.40" stroke="#000" stroke-width="3.2" stroke-linecap="round"/>
<text transform="translate(468.10,634.00) scale(0.96,1.07)" text-anchor="end" class="tk">180</text>
<line x1="484.60" y1="1094.3" x2="484.60" y2="1099.10" stroke="#000" stroke-width="3.2" stroke-linecap="round"/>
<line x1="524.50" y1="1094.3" x2="524.50" y2="1103.90" stroke="#000" stroke-width="3.2" stroke-linecap="round"/>
<text transform="translate(524.50,1131.00) scale(0.96,1.07)" text-anchor="middle" class="tk">0</text>
<line x1="564.40" y1="1094.3" x2="564.40" y2="1099.10" stroke="#000" stroke-width="3.2" stroke-linecap="round"/>
<line x1="604.30" y1="1094.3" x2="604.30" y2="1103.90" stroke="#000" stroke-width="3.2" stroke-linecap="round"/>
<text transform="translate(604.30,1131.00) scale(0.96,1.07)" text-anchor="middle" class="tk">20</text>
<line x1="644.20" y1="1094.3" x2="644.20" y2="1099.10" stroke="#000" stroke-width="3.2" stroke-linecap="round"/>
<line x1="684.10" y1="1094.3" x2="684.10" y2="1103.90" stroke="#000" stroke-width="3.2" stroke-linecap="round"/>
<text transform="translate(684.10,1131.00) scale(0.96,1.07)" text-anchor="middle" class="tk">40</text>
<line x1="724.00" y1="1094.3" x2="724.00" y2="1099.10" stroke="#000" stroke-width="3.2" stroke-linecap="round"/>
<line x1="763.90" y1="1094.3" x2="763.90" y2="1103.90" stroke="#000" stroke-width="3.2" stroke-linecap="round"/>
<text transform="translate(763.90,1131.00) scale(0.96,1.07)" text-anchor="middle" class="tk">60</text>
<line x1="803.80" y1="1094.3" x2="803.80" y2="1099.10" stroke="#000" stroke-width="3.2" stroke-linecap="round"/>
<line x1="843.70" y1="1094.3" x2="843.70" y2="1103.90" stroke="#000" stroke-width="3.2" stroke-linecap="round"/>
<text transform="translate(843.70,1131.00) scale(0.96,1.07)" text-anchor="middle" class="tk">80</text>
<line x1="883.60" y1="1094.3" x2="883.60" y2="1099.10" stroke="#000" stroke-width="3.2" stroke-linecap="round"/>
<line x1="923.50" y1="1094.3" x2="923.50" y2="1103.90" stroke="#000" stroke-width="3.2" stroke-linecap="round"/>
<text transform="translate(923.50,1131.00) scale(0.96,1.07)" text-anchor="middle" class="tk">100</text>
<line x1="963.40" y1="1094.3" x2="963.40" y2="1099.10" stroke="#000" stroke-width="3.2" stroke-linecap="round"/>
<line x1="1003.30" y1="1094.3" x2="1003.30" y2="1103.90" stroke="#000" stroke-width="3.2" stroke-linecap="round"/>
<text transform="translate(1003.30,1131.00) scale(0.96,1.07)" text-anchor="middle" class="tk">120</text>
<line x1="1043.20" y1="1094.3" x2="1043.20" y2="1099.10" stroke="#000" stroke-width="3.2" stroke-linecap="round"/>
<polyline points="524.50,748.35 620.26,799.46 716.02,943.89 811.78,997.96 907.54,1030.54 1003.30,1046.10" fill="none" stroke="#000000" stroke-width="2.4" stroke-linejoin="round"/>
<line x1="524.50" y1="703.65" x2="524.50" y2="793.05" stroke="#000000" stroke-width="2" stroke-linecap="round"/>
<line x1="517.70" y1="703.65" x2="531.30" y2="703.65" stroke="#000000" stroke-width="2.2" stroke-linecap="round"/>
<line x1="517.70" y1="793.05" x2="531.30" y2="793.05" stroke="#000000" stroke-width="2.2" stroke-linecap="round"/>
<rect x="519.40" y="743.25" width="10.2" height="10.2" fill="#000000"/>
<line x1="620.26" y1="793.46" x2="620.26" y2="805.46" stroke="#000000" stroke-width="2" stroke-linecap="round"/>
<line x1="613.46" y1="793.46" x2="627.06" y2="793.46" stroke="#000000" stroke-width="2.2" stroke-linecap="round"/>
<line x1="613.46" y1="805.46" x2="627.06" y2="805.46" stroke="#000000" stroke-width="2.2" stroke-linecap="round"/>
<rect x="615.16" y="794.36" width="10.2" height="10.2" fill="#000000"/>
<line x1="716.02" y1="941.89" x2="716.02" y2="945.89" stroke="#000000" stroke-width="2" stroke-linecap="round"/>
<line x1="709.22" y1="941.89" x2="722.82" y2="941.89" stroke="#000000" stroke-width="2.2" stroke-linecap="round"/>
<line x1="709.22" y1="945.89" x2="722.82" y2="945.89" stroke="#000000" stroke-width="2.2" stroke-linecap="round"/>
<rect x="710.92" y="938.79" width="10.2" height="10.2" fill="#000000"/>
<line x1="811.78" y1="990.96" x2="811.78" y2="1004.96" stroke="#000000" stroke-width="2" stroke-linecap="round"/>
<line x1="804.98" y1="990.96" x2="818.58" y2="990.96" stroke="#000000" stroke-width="2.2" stroke-linecap="round"/>
<line x1="804.98" y1="1004.96" x2="818.58" y2="1004.96" stroke="#000000" stroke-width="2.2" stroke-linecap="round"/>
<rect x="806.68" y="992.86" width="10.2" height="10.2" fill="#000000"/>
<line x1="907.54" y1="1027.54" x2="907.54" y2="1033.54" stroke="#000000" stroke-width="2" stroke-linecap="round"/>
<line x1="900.74" y1="1027.54" x2="914.34" y2="1027.54" stroke="#000000" stroke-width="2.2" stroke-linecap="round"/>
<line x1="900.74" y1="1033.54" x2="914.34" y2="1033.54" stroke="#000000" stroke-width="2.2" stroke-linecap="round"/>
<rect x="902.44" y="1025.44" width="10.2" height="10.2" fill="#000000"/>
<line x1="1003.30" y1="1041.30" x2="1003.30" y2="1050.90" stroke="#000000" stroke-width="2" stroke-linecap="round"/>
<line x1="996.50" y1="1041.30" x2="1010.10" y2="1041.30" stroke="#000000" stroke-width="2.2" stroke-linecap="round"/>
<line x1="996.50" y1="1050.90" x2="1010.10" y2="1050.90" stroke="#000000" stroke-width="2.2" stroke-linecap="round"/>
<rect x="998.20" y="1041.00" width="10.2" height="10.2" fill="#000000"/>
<polyline points="524.50,716.25 620.26,801.92 716.02,943.15 811.78,996.72 907.54,1016.97 1003.30,1023.88" fill="none" stroke="#e8202a" stroke-width="2.4" stroke-linejoin="round"/>
<line x1="524.50" y1="703.25" x2="524.50" y2="728.25" stroke="#e8202a" stroke-width="2" stroke-linecap="round"/>
<line x1="517.70" y1="703.25" x2="531.30" y2="703.25" stroke="#e8202a" stroke-width="2.2" stroke-linecap="round"/>
<line x1="517.70" y1="728.25" x2="531.30" y2="728.25" stroke="#e8202a" stroke-width="2.2" stroke-linecap="round"/>
<circle cx="524.50" cy="716.25" r="5.8" fill="#e8202a"/>
<line x1="620.26" y1="796.42" x2="620.26" y2="807.42" stroke="#e8202a" stroke-width="2" stroke-linecap="round"/>
<line x1="613.46" y1="796.42" x2="627.06" y2="796.42" stroke="#e8202a" stroke-width="2.2" stroke-linecap="round"/>
<line x1="613.46" y1="807.42" x2="627.06" y2="807.42" stroke="#e8202a" stroke-width="2.2" stroke-linecap="round"/>
<circle cx="620.26" cy="801.92" r="5.8" fill="#e8202a"/>
<line x1="716.02" y1="941.15" x2="716.02" y2="945.15" stroke="#e8202a" stroke-width="2" stroke-linecap="round"/>
<line x1="709.22" y1="941.15" x2="722.82" y2="941.15" stroke="#e8202a" stroke-width="2.2" stroke-linecap="round"/>
<line x1="709.22" y1="945.15" x2="722.82" y2="945.15" stroke="#e8202a" stroke-width="2.2" stroke-linecap="round"/>
<circle cx="716.02" cy="943.15" r="5.8" fill="#e8202a"/>
<line x1="811.78" y1="993.72" x2="811.78" y2="999.72" stroke="#e8202a" stroke-width="2" stroke-linecap="round"/>
<line x1="804.98" y1="993.72" x2="818.58" y2="993.72" stroke="#e8202a" stroke-width="2.2" stroke-linecap="round"/>
<line x1="804.98" y1="999.72" x2="818.58" y2="999.72" stroke="#e8202a" stroke-width="2.2" stroke-linecap="round"/>
<circle cx="811.78" cy="996.72" r="5.8" fill="#e8202a"/>
<line x1="907.54" y1="1011.57" x2="907.54" y2="1022.37" stroke="#e8202a" stroke-width="2" stroke-linecap="round"/>
<line x1="900.74" y1="1011.57" x2="914.34" y2="1011.57" stroke="#e8202a" stroke-width="2.2" stroke-linecap="round"/>
<line x1="900.74" y1="1022.37" x2="914.34" y2="1022.37" stroke="#e8202a" stroke-width="2.2" stroke-linecap="round"/>
<circle cx="907.54" cy="1016.97" r="5.8" fill="#e8202a"/>
<circle cx="1003.30" cy="1023.88" r="5.8" fill="#e8202a"/>
<polyline points="524.50,732.55 620.26,756.50 716.02,740.20 811.78,745.14 907.54,735.02 1003.30,746.13" fill="none" stroke="#3a54a6" stroke-width="2.4" stroke-linejoin="round"/>
<line x1="524.50" y1="723.15" x2="524.50" y2="740.85" stroke="#3a54a6" stroke-width="2" stroke-linecap="round"/>
<line x1="517.70" y1="723.15" x2="531.30" y2="723.15" stroke="#3a54a6" stroke-width="2.2" stroke-linecap="round"/>
<line x1="517.70" y1="740.85" x2="531.30" y2="740.85" stroke="#3a54a6" stroke-width="2.2" stroke-linecap="round"/>
<polygon points="524.50,723.85 531.00,737.25 518.00,737.25" fill="#3a54a6"/>
<line x1="620.26" y1="748.40" x2="620.26" y2="764.80" stroke="#3a54a6" stroke-width="2" stroke-linecap="round"/>
<line x1="613.46" y1="748.40" x2="627.06" y2="748.40" stroke="#3a54a6" stroke-width="2.2" stroke-linecap="round"/>
<line x1="613.46" y1="764.80" x2="627.06" y2="764.80" stroke="#3a54a6" stroke-width="2.2" stroke-linecap="round"/>
<polygon points="620.26,747.80 626.76,761.20 613.76,761.20" fill="#3a54a6"/>
<line x1="716.02" y1="731.40" x2="716.02" y2="746.90" stroke="#3a54a6" stroke-width="2" stroke-linecap="round"/>
<line x1="709.22" y1="736.50" x2="722.82" y2="736.50" stroke="#3a54a6" stroke-width="2.2" stroke-linecap="round"/>
<line x1="709.22" y1="742.20" x2="722.82" y2="742.20" stroke="#3a54a6" stroke-width="2.2" stroke-linecap="round"/>
<polygon points="716.02,731.50 722.52,744.90 709.52,744.90" fill="#3a54a6"/>
<line x1="811.78" y1="737.44" x2="811.78" y2="754.14" stroke="#3a54a6" stroke-width="2" stroke-linecap="round"/>
<line x1="804.98" y1="737.44" x2="818.58" y2="737.44" stroke="#3a54a6" stroke-width="2.2" stroke-linecap="round"/>
<line x1="804.98" y1="754.14" x2="818.58" y2="754.14" stroke="#3a54a6" stroke-width="2.2" stroke-linecap="round"/>
<polygon points="811.78,736.44 818.28,749.84 805.28,749.84" fill="#3a54a6"/>
<line x1="907.54" y1="726.22" x2="907.54" y2="742.12" stroke="#3a54a6" stroke-width="2" stroke-linecap="round"/>
<line x1="900.74" y1="729.32" x2="914.34" y2="729.32" stroke="#3a54a6" stroke-width="2.2" stroke-linecap="round"/>
<line x1="900.74" y1="739.52" x2="914.34" y2="739.52" stroke="#3a54a6" stroke-width="2.2" stroke-linecap="round"/>
<polygon points="907.54,726.32 914.04,739.72 901.04,739.72" fill="#3a54a6"/>
<line x1="1003.30" y1="737.33" x2="1003.30" y2="753.13" stroke="#3a54a6" stroke-width="2" stroke-linecap="round"/>
<line x1="996.50" y1="741.43" x2="1010.10" y2="741.43" stroke="#3a54a6" stroke-width="2.2" stroke-linecap="round"/>
<line x1="996.50" y1="751.73" x2="1010.10" y2="751.73" stroke="#3a54a6" stroke-width="2.2" stroke-linecap="round"/>
<polygon points="1003.30,737.43 1009.80,750.83 996.80,750.83" fill="#3a54a6"/>
<line x1="136.9" y1="44.2" x2="185.6" y2="44.2" stroke="#000000" stroke-width="2.4"/>
<text x="189.6" y="51.2" class="lg"><tspan font-style="italic">A. alterprofundi</tspan> HHU 13199<tspan font-size="12" dy="-10">T</tspan></text>
<line x1="136.9" y1="73.0" x2="185.6" y2="73.0" stroke="#e8202a" stroke-width="2.4"/>
<text x="189.6" y="80.1" class="lg"><tspan font-style="italic">A. alterisediminis</tspan> N102<tspan font-size="12" dy="-10">T</tspan></text>
<line x1="136.9" y1="98.8" x2="185.6" y2="98.8" stroke="#3a54a6" stroke-width="2.4"/>
<text x="189.6" y="105.9" class="lg">NC</text>
<rect x="156.65" y="39.60" width="9.2" height="9.2" fill="#000000"/>
<circle cx="161.25" cy="73.00" r="5.2" fill="#e8202a"/>
<polygon points="161.25,92.00 167.45,102.80 155.05,102.80" fill="#3a54a6"/>
<line x1="858.3" y1="48.7" x2="906.3" y2="48.7" stroke="#000000" stroke-width="2.4"/>
<text x="911.3" y="54.9" class="lg"><tspan font-style="italic">A. alteriprofundi</tspan> HHU 13199<tspan font-size="12" dy="-10">T</tspan></text>
<line x1="858.3" y1="77.3" x2="906.3" y2="77.3" stroke="#e8202a" stroke-width="2.4"/>
<text x="911.3" y="84.4" class="lg"><tspan font-style="italic">A. alterisediminis</tspan> N102<tspan font-size="12" dy="-10">T</tspan></text>
<line x1="858.3" y1="102.9" x2="906.3" y2="102.9" stroke="#3a54a6" stroke-width="2.4"/>
<text x="911.3" y="109.1" class="lg">NC</text>
<rect x="877.20" y="43.60" width="10.2" height="10.2" fill="#000000"/>
<circle cx="882.30" cy="77.30" r="5.6" fill="#e8202a"/>
<polygon points="882.30,95.00 889.10,107.00 875.50,107.00" fill="#3a54a6"/>
<line x1="547.9" y1="644.0" x2="594.6" y2="644.0" stroke="#000000" stroke-width="2.4"/>
<text x="599.6" y="650.7" class="lg"><tspan font-style="italic">A. alteriprofundi</tspan> HHU 13199<tspan font-size="12" dy="-10">T</tspan></text>
<line x1="547.9" y1="672.5" x2="594.6" y2="672.5" stroke="#e8202a" stroke-width="2.4"/>
<text x="599.6" y="680.2" class="lg"><tspan font-style="italic">A. alterisediminis</tspan> N102<tspan font-size="12" dy="-10">T</tspan></text>
<line x1="547.9" y1="698.2" x2="594.6" y2="698.2" stroke="#3a54a6" stroke-width="2.4"/>
<text x="599.6" y="705.4" class="lg">NC</text>
<rect x="566.15" y="638.90" width="10.2" height="10.2" fill="#000000"/>
<circle cx="571.25" cy="672.50" r="5.6" fill="#e8202a"/>
<polygon points="571.25,690.00 578.05,702.50 564.45,702.50" fill="#3a54a6"/>
<text x="344.8" y="569.1" class="ti" style="font-size:32.2px">Time (h)</text>
<text x="1060.1" y="568.6" class="ti" style="font-size:32.2px">Time (h)</text>
<text x="712.5" y="1181.1" class="ti">Time(h)</text>
<text transform="translate(43.9,292.1) rotate(-90)" class="ti" style="font-size:33px">pH</text>
<text transform="translate(755.1,368) rotate(-90)" class="ti">NH<tspan font-size="20" dy="10.5">3</tspan><tspan dy="-10.5">-N (mg/L)</tspan></text>
<text transform="translate(403.6,972.6) rotate(-90)" class="ti">NO<tspan font-size="20" dy="10.5">3</tspan><tspan dy="-10.5">-N(mg/L)</tspan></text>
<text x="-0.5" y="24" class="lt">A</text>
<text x="714.5" y="24" class="lt">B</text>
<text x="361" y="630.7" class="lt">C</text>
</svg>
</body></html>
